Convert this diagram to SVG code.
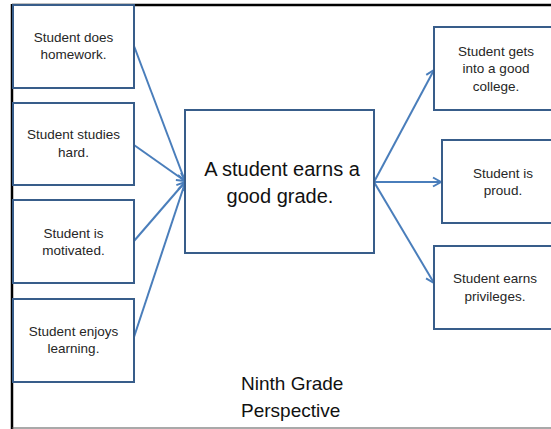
<svg xmlns="http://www.w3.org/2000/svg" width="551" height="429" viewBox="0 0 551 429">
<style>
.box{fill:#fff;stroke:#385D8A;stroke-width:2}
.t{font-family:"Liberation Sans",Arial,sans-serif;font-size:13.5px;fill:#262626;text-anchor:middle}
.big{font-family:"Liberation Sans",Arial,sans-serif;font-size:20px;fill:#111;text-anchor:middle}
.cap{font-family:"Liberation Sans",Arial,sans-serif;font-size:19px;fill:#111}
.c{fill:none;stroke:#4A7EBB;stroke-width:2}
</style>
<defs>
<marker id="arr" markerUnits="userSpaceOnUse" markerWidth="12" markerHeight="12" refX="9" refY="6" orient="auto">
<path d="M1,1.5 L9,6 L1,10.5" fill="none" stroke="#4A7EBB" stroke-width="2"/>
</marker>
</defs>
<rect width="551" height="429" fill="#fff"/>
<g id="frame">
<line x1="12" y1="5" x2="551" y2="5" stroke="#000" stroke-width="2.5"/>
<line x1="12" y1="4" x2="12" y2="429" stroke="#000" stroke-width="2.5"/>
<line x1="12" y1="428" x2="551" y2="428" stroke="#555" stroke-width="1.2"/>
</g>
<g id="connectors">
<line class="c" x1="134" y1="46" x2="185" y2="181" marker-end="url(#arr)"/>
<line class="c" x1="134" y1="145" x2="185" y2="181" marker-end="url(#arr)"/>
<line class="c" x1="134" y1="241" x2="185" y2="182" marker-end="url(#arr)"/>
<line class="c" x1="134" y1="337" x2="185" y2="183" marker-end="url(#arr)"/>
<line class="c" x1="374" y1="182" x2="434" y2="70" marker-end="url(#arr)"/>
<line class="c" x1="374" y1="182" x2="441" y2="182" marker-end="url(#arr)"/>
<line class="c" x1="374" y1="182" x2="434" y2="283" marker-end="url(#arr)"/>
</g>
<g id="n1"><rect class="box" x="13" y="5" width="121" height="83"/>
<text class="t" x="73.5" y="42">Student does</text><text class="t" x="73.5" y="59">homework.</text></g>
<g id="n2"><rect class="box" x="13" y="103" width="121" height="82"/>
<text class="t" x="73.5" y="139">Student studies</text><text class="t" x="73.5" y="157">hard.</text></g>
<g id="n3"><rect class="box" x="13" y="200" width="121" height="83"/>
<text class="t" x="73.5" y="238">Student is</text><text class="t" x="73.5" y="255">motivated.</text></g>
<g id="n4"><rect class="box" x="13" y="299" width="121" height="83"/>
<text class="t" x="73.5" y="336">Student enjoys</text><text class="t" x="73.5" y="353">learning.</text></g>
<g id="center"><rect class="box" x="185" y="110" width="189" height="143"/>
<text class="big" x="282" y="176">A student earns a</text><text class="big" x="280" y="203">good grade.</text></g>
<g id="r1"><rect class="box" x="434" y="27" width="124" height="83"/>
<text class="t" x="496" y="56">Student gets</text><text class="t" x="496" y="73">into a good</text><text class="t" x="496" y="91">college.</text></g>
<g id="r2"><rect class="box" x="442" y="140" width="124" height="83"/>
<text class="t" x="503" y="178">Student is</text><text class="t" x="503" y="195">proud.</text></g>
<g id="r3"><rect class="box" x="434" y="246" width="124" height="83"/>
<text class="t" x="495" y="283">Student earns</text><text class="t" x="495" y="301">privileges.</text></g>
<g id="caption">
<text class="cap" x="241" y="390">Ninth Grade</text><text class="cap" x="241" y="417">Perspective</text></g>
</svg>
